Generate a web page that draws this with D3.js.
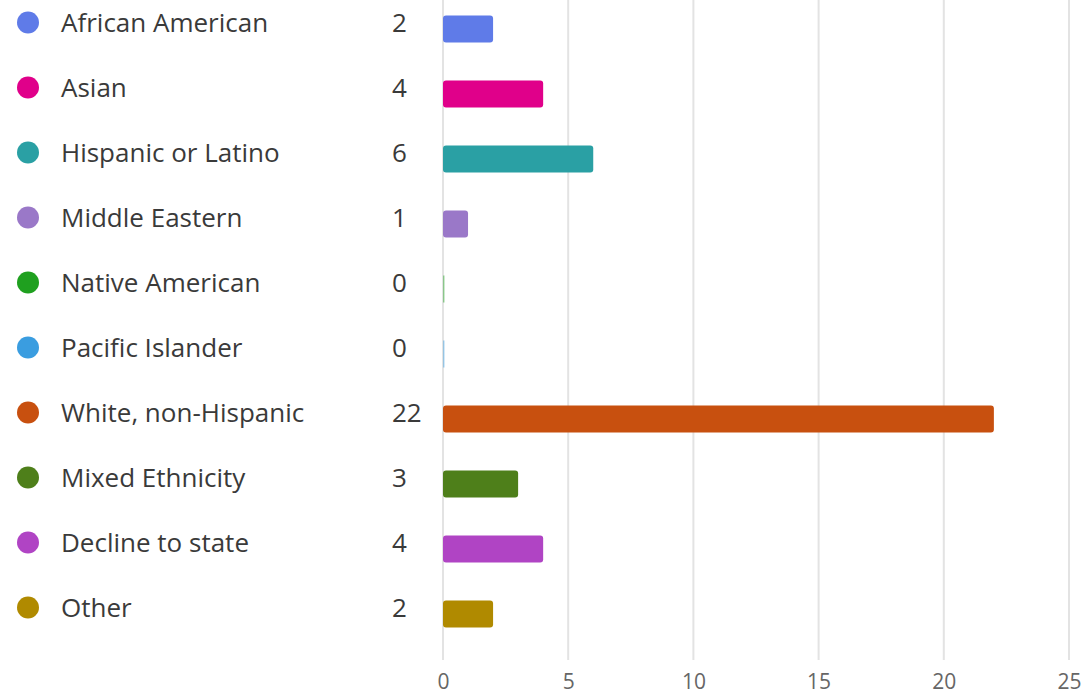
<!DOCTYPE html>
<html><head><meta charset="utf-8">
<script src="https://cdn.jsdelivr.net/npm/d3@7/dist/d3.min.js"></script>
<style>body{margin:0;background:#fff;}svg{display:block;font-family:"Segoe UI","Open Sans",sans-serif;}</style>
</head><body>
<script>
const categories = ["African American","Asian","Hispanic or Latino","Middle Eastern","Native American","Pacific Islander","White, non-Hispanic","Mixed Ethnicity","Decline to state","Other"];
const values = [2,4,6,1,0,0,22,3,4,2];
const colors = ["#5f7be8","#e0008a","#2aa0a4","#9a78c8","#1fa01f","#3a9de0","#c8500f","#4e7f1a","#b044c4","#b08a00"];
const xTicks = [0,5,10,15,20,25];

const W=1087,H=696;
const svg=d3.select("body").append("svg").attr("width",W).attr("height",H);
const x=d3.scaleLinear().domain([0,25]).range([443,1069]);
const y=d3.scaleBand().domain(categories).range([-10,640]).paddingInner(0);

// grid
svg.append("g").selectAll("line").data(xTicks).join("line")
  .attr("x1",d=>x(d)).attr("x2",d=>x(d)).attr("y1",0).attr("y2",660)
  .attr("stroke","#e3e3e3").attr("stroke-width",2);

const axis=d3.axisBottom(x).tickValues(xTicks).tickSize(0).tickPadding(0);
const ag=svg.append("g").attr("transform","translate(0,669)").call(axis);
ag.select(".domain").remove();
ag.selectAll("text").attr("font-size",21).attr("fill","#666").attr("dy","0.95em").style("font-family","'Segoe UI','Open Sans',sans-serif");

const rows=svg.append("g").selectAll("g").data(categories).join("g")
  .attr("transform",d=>`translate(0,${y(d)+y.bandwidth()/2})`);

rows.append("circle").attr("cx",28).attr("cy",0).attr("r",11).attr("fill",(d,i)=>colors[i]);
rows.append("text").attr("x",61).attr("y",0).attr("dy","0.35em").attr("font-size",26).attr("fill","#3a3a3a").text(d=>d);
rows.append("text").attr("x",392).attr("y",0).attr("dy","0.35em").attr("font-size",26).attr("fill","#3a3a3a").text((d,i)=>values[i]);

rows.append("rect")
  .attr("x",x(0))
  .attr("y",-7)
  .attr("height",27)
  .attr("width",(d,i)=>Math.max(x(values[i])-x(0),1.5))
  .attr("rx",(d,i)=>values[i]>0?3:0)
  .attr("fill",(d,i)=>colors[i])
  .attr("opacity",(d,i)=>values[i]>0?1:0.45);
</script>
</body></html>
